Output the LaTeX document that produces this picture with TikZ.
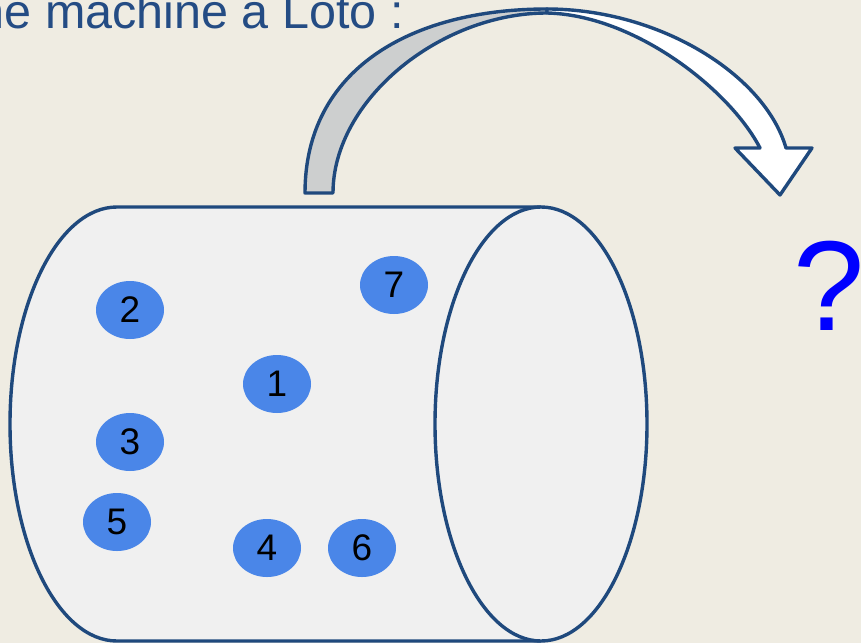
\documentclass[tikz,border=0pt]{standalone}
\usepackage{fontspec}
\setmainfont{Liberation Sans}
\usetikzlibrary{shapes.geometric}

\definecolor{fond}{RGB}{239,236,226}
\definecolor{bleufonce}{RGB}{31,73,125}
\definecolor{titrebleu}{RGB}{36,76,132}
\definecolor{tambour}{RGB}{240,240,240}
\definecolor{boulebleu}{RGB}{74,134,232}
\definecolor{flechegris}{RGB}{205,207,207}

\tikzset{
  trait/.style={draw=bleufonce, line width=3.4pt, line join=round},
  boule/.style={ellipse, fill=boulebleu, minimum width=68pt, minimum height=58pt,
    inner sep=0pt, text=black, font=\fontsize{37}{37}\selectfont},
}

\begin{document}
\begin{tikzpicture}[x=1pt, y=-1pt]
  \useasboundingbox (0,0) rectangle (861,643);
  \clip (0,0) rectangle (861,643);
  \fill[fond] (0,0) rectangle (861,643);

  % Title
  \node[anchor=base east, text=titrebleu, inner sep=0pt,
    font=\fontsize{48.5}{49}\selectfont] (titre) at (404,28) {Une machine à Loto :};

  % Drawing the drum: body then open end
  \path[fill=tambour] (541,207) -- (117,207)
    arc[start angle=-90, end angle=-270, x radius=107, y radius=217] -- (541,641) -- cycle;
  \draw[trait] (541,207) -- (117,207)
    arc[start angle=-90, end angle=-270, x radius=107, y radius=217] -- (541,641);
  \draw[trait, fill=tambour] (541,424) ellipse[x radius=106, y radius=217];

  % Balls
  \node[boule] (b1) at (277,384) {1};
  \node[boule] (b2) at (130,310) {2};
  \node[boule] (b3) at (130,442) {3};
  \node[boule] (b4) at (267,548) {4};
  \node[boule] (b5) at (117,522) {5};
  \node[boule] (b6) at (362,548) {6};
  \node[boule] (b7) at (394,285) {7};

  % Drawing curved arrow, back part
  \draw[trait, fill=flechegris] (305,193) .. controls (305,70) and (410,9) .. (547,9)
    -- (547,13) .. controls (440,13) and (333,100) .. (333,193) -- cycle;

  % Drawing curved arrow, front part with head
  \draw[trait, fill=white] (547,9) .. controls (660,9) and (765,75) .. (786,148)
    -- (812,148) -- (780,195) -- (735,148) -- (760,148)
    .. controls (730,90) and (635,15) .. (547,13) -- cycle;

  % Question mark
  \node[anchor=base, text=blue, inner sep=0pt,
    font=\fontsize{128}{128}\selectfont] (question) at (829,330) {?};
\end{tikzpicture}
\end{document}
